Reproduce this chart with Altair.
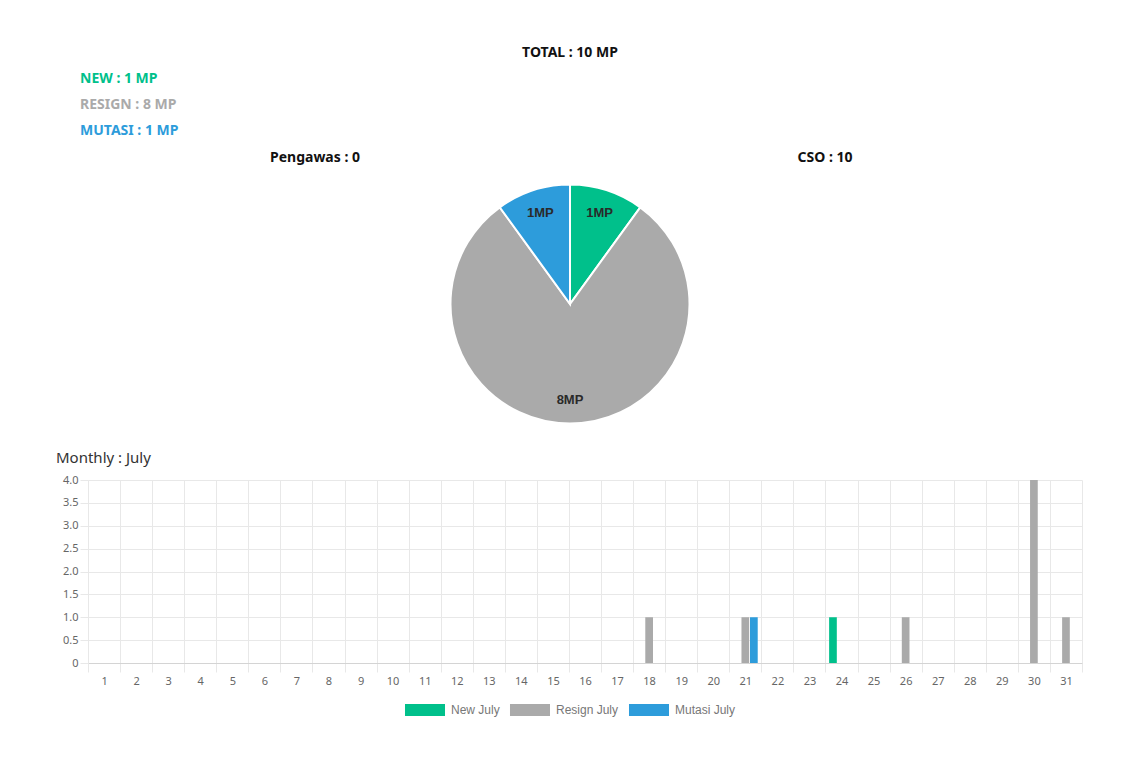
import altair as alt
import pandas as pd

# ---------------- data ----------------
days = [1, 2, 3, 4, 5, 6, 7, 8, 9, 10, 11, 12, 13, 14, 15, 16,
        17, 18, 19, 20, 21, 22, 23, 24, 25, 26, 27, 28, 29, 30, 31]
new_july =    [0, 0, 0, 0, 0, 0, 0, 0, 0, 0, 0, 0, 0, 0, 0, 0,
               0, 0, 0, 0, 0, 0, 0, 1, 0, 0, 0, 0, 0, 0, 0]
resign_july = [0, 0, 0, 0, 0, 0, 0, 0, 0, 0, 0, 0, 0, 0, 0, 0,
               0, 1, 0, 0, 1, 0, 0, 0, 0, 1, 0, 0, 0, 4, 1]
mutasi_july = [0, 0, 0, 0, 0, 0, 0, 0, 0, 0, 0, 0, 0, 0, 0, 0,
               0, 0, 0, 0, 1, 0, 0, 0, 0, 0, 0, 0, 0, 0, 0]
series_names = ["New July", "Resign July", "Mutasi July"]
series_colors = ["#00C08B", "#AAAAAA", "#2D9CDB"]

pie_categories = ["NEW", "RESIGN", "MUTASI"]
pie_values = [1, 8, 1]
pengawas_total = 0
cso_total = 10
month_name = "July"
y_ticks = [0, 0.5, 1.0, 1.5, 2.0, 2.5, 3.0, 3.5, 4.0]

# ---------------- tables ----------------
rows = []
for name, vals in zip(series_names, [new_july, resign_july, mutasi_july]):
    for d, v in zip(days, vals):
        rows.append({"day": str(d), "series": name, "count": v})
bar_df = pd.DataFrame(rows)

pie_df = pd.DataFrame({
    "cat": pie_categories,
    "value": pie_values,
    "idx": [0, 1, 2],
    "label": [f"{v}MP" for v in pie_values],
})
one = pd.DataFrame({"a": [0]})

W, H = 994, 183
TXT_FONT = "Noto Sans"
TICK_FONT = "Noto Sans"

# ---------------- bar chart ----------------
legend_symbol = "M-1.667,-0.5L1.667,-0.5L1.667,0.5L-1.667,0.5Z"

bars = alt.Chart(bar_df).mark_bar().encode(
    x=alt.X("day:O", sort=[str(d) for d in days],
            scale=alt.Scale(paddingInner=0, paddingOuter=0),
            axis=alt.Axis(title=None, labelAngle=0, tickBand="extent", grid=True,
                          gridColor="#e8e8e8", tickColor="#e8e8e8", tickSize=9,
                          labelPadding=3, labelColor="#666666", labelFontSize=11,
                          labelFont=TICK_FONT, domainColor="#d4d4d4")),
    xOffset=alt.XOffset("series:N", sort=series_names,
                        scale=alt.Scale(paddingInner=0.1, paddingOuter=0.425)),
    y=alt.Y("count:Q", scale=alt.Scale(domain=[0, 4], nice=False),
            axis=alt.Axis(title=None, values=y_ticks,
                          labelExpr="datum.value == 0 ? '0' : format(datum.value, '.1f')",
                          tickSize=8, tickColor="#e8e8e8", gridColor="#e8e8e8",
                          domainColor="#e8e8e8", labelPadding=2, labelColor="#666666",
                          labelFontSize=11, labelFont=TICK_FONT)),
    color=alt.Color("series:N", sort=series_names,
                    scale=alt.Scale(domain=series_names, range=series_colors),
                    legend=alt.Legend(orient="none", legendX=325, legendY=218,
                                      direction="horizontal", title=None,
                                      symbolType=legend_symbol, symbolSize=576,
                                      symbolStrokeWidth=0, symbolOpacity=1,
                                      labelOffset=14, columnPadding=9, gridAlign="none",
                                      labelFontSize=12, labelColor="#777777",
                                      labelFont="Liberation Sans")),
)

monthly = alt.Chart(one).mark_text(
    text=f"Monthly : {month_name}", align="left", baseline="middle",
    font=TXT_FONT, fontSize=15, color="#333333",
).encode(x=alt.value(-32), y=alt.value(-22))

# ---------------- pie ----------------
CX, CY = 482, -176
pie = alt.Chart(pie_df).mark_arc(outerRadius=119.5, stroke="white", strokeWidth=2).encode(
    theta=alt.Theta("value:Q", stack=True),
    order=alt.Order("idx:Q"),
    color=alt.Color("cat:N", sort=pie_categories,
                    scale=alt.Scale(domain=pie_categories, range=series_colors),
                    legend=None),
    x=alt.value(CX), y=alt.value(CY),
)
pie_text = alt.Chart(pie_df).mark_text(
    radius=96, font="Liberation Sans", fontSize=13, fontWeight="bold", color="#2a2a2a",
).encode(
    theta=alt.Theta("value:Q", stack=True),
    order=alt.Order("idx:Q"),
    text="label:N",
    x=alt.value(CX), y=alt.value(CY),
)

# ---------------- header texts ----------------
total = sum(pie_values)
def txt(s, x, y, color="#111111", align="center", size=14):
    return alt.Chart(one).mark_text(
        text=s, align=align, baseline="middle", font=TXT_FONT, fontSize=size,
        fontWeight="bold", color=color,
    ).encode(x=alt.value(x), y=alt.value(y))

headers = [
    txt(f"TOTAL : {total} MP", 482, -427),
    txt(f"NEW : {pie_values[0]} MP", -8, -401, series_colors[0], "left"),
    txt(f"RESIGN : {pie_values[1]} MP", -8, -375, series_colors[1], "left"),
    txt(f"MUTASI : {pie_values[2]} MP", -8, -349, series_colors[2], "left"),
    txt(f"Pengawas : {pengawas_total}", 227, -322),
    txt(f"CSO : {cso_total}", 737, -322),
]

chart = alt.layer(bars, monthly, pie, pie_text, *headers).resolve_scale(
    color="independent"
).properties(
    width=W, height=H,
    autosize=alt.AutoSizeParams(type="none"),
    padding={"left": 80, "top": 472, "right": 50, "bottom": 60},
).configure_view(stroke=None)

chart.save("out.html", embed_options={"renderer": "svg", "actions": False})
